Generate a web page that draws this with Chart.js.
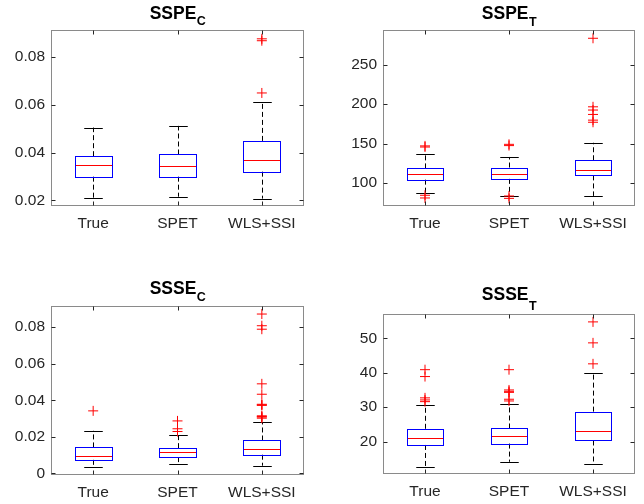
<!DOCTYPE html>
<html>
<head>
<meta charset="utf-8">
<script src="https://cdn.jsdelivr.net/npm/chart.js@4.4.1/dist/chart.umd.min.js"></script>
<style>
  html, body { margin: 0; padding: 0; background: #fff; }
  #fig { position: relative; width: 644px; height: 504px; background: #fff; }
  .panel { position: absolute; width: 322px; height: 252px; }
</style>
</head>
<body>
<div id="fig">
  <div class="panel" style="left:0;top:0"><canvas id="c1"></canvas></div>
  <div class="panel" style="left:322px;top:0"><canvas id="c2"></canvas></div>
  <div class="panel" style="left:0;top:252px"><canvas id="c3"></canvas></div>
  <div class="panel" style="left:322px;top:252px"><canvas id="c4"></canvas></div>
</div>
<script>
// Methods compared in every panel
const categories = ['True', 'SPET', 'WLS+SSI'];

// SSPE_C box statistics (lower whisker, Q1, median, Q3, upper whisker)
const sspeC_lo  = [0.0211, 0.0215, 0.0207];
const sspeC_q1  = [0.0299, 0.0299, 0.0320];
const sspeC_med = [0.0347, 0.0345, 0.0368];
const sspeC_q3  = [0.0385, 0.0392, 0.0449];
const sspeC_hi  = [0.0505, 0.0512, 0.0610];
const sspeC_out = [[], [], [0.0650, 0.0869, 0.0877]];
const sspeC_ticks = [0.02, 0.04, 0.06, 0.08];
const sspeC_tickLabels = ['0.02', '0.04', '0.06', '0.08'];
const sspeC_range = [0.0176, 0.0914];

// SSPE_T
const sspeT_lo  = [87, 84, 83.6];
const sspeT_q1  = [104.2, 105.2, 109.6];
const sspeT_med = [111.4, 111.4, 116.6];
const sspeT_q3  = [118.5, 119.6, 128.8];
const sspeT_hi  = [137, 133, 151];
const sspeT_out = [[147, 145.6, 84.4, 81], [149, 147.4, 83.5, 80.5], [283.5, 196.6, 192.5, 186.9, 179.7, 177]];
const sspeT_ticks = [100, 150, 200, 250];
const sspeT_tickLabels = ['100', '150', '200', '250'];
const sspeT_range = [70.8, 294];

// SSSE_C
const ssseC_lo  = [0.0034, 0.0051, 0.0042];
const ssseC_q1  = [0.0074, 0.0089, 0.0102];
const ssseC_med = [0.0096, 0.0118, 0.0131];
const ssseC_q3  = [0.0142, 0.0138, 0.0180];
const ssseC_hi  = [0.0233, 0.0211, 0.0280];
const ssseC_out = [[0.0342], [0.0287, 0.0244, 0.0229],
  [0.0872, 0.0808, 0.0789, 0.0490, 0.0433, 0.0378, 0.0375, 0.0372, 0.0315, 0.0311, 0.0308, 0.0302]];
const ssseC_ticks = [0, 0.02, 0.04, 0.06, 0.08];
const ssseC_tickLabels = ['0', '0.02', '0.04', '0.06', '0.08'];
const ssseC_range = [-0.0009, 0.0916];

// SSSE_T
const ssseT_lo  = [12.6, 14.1, 13.6];
const ssseT_q1  = [19.0, 19.4, 20.3];
const ssseT_med = [21.1, 21.6, 23.0];
const ssseT_q3  = [23.7, 23.8, 28.7];
const ssseT_hi  = [30.6, 30.9, 39.9];
const ssseT_out = [[40.9, 38.9, 32.7, 32.1, 31.6], [40.9, 35.0, 34.6, 34.3, 32.3, 31.8], [54.8, 48.7, 42.6]];
const ssseT_ticks = [20, 30, 40, 50];
const ssseT_tickLabels = ['20', '30', '40', '50'];
const ssseT_range = [10.55, 57.1];

const FONT = '"Liberation Sans", Arial, Helvetica, sans-serif';
const TICK_COLOR = '#262626';
const FRAME_COLOR = '#8a8a8a';

const snap = v => Math.round(v) + 0.5;

// Whiskers, caps, box outlines, medians, axes frame, inward ticks and the subscripted title
const boxplotDecor = {
  id: 'boxplotDecor',
  beforeDatasetsDraw(chart, args, opts) {
    const ctx = chart.ctx, y = chart.scales.y;
    const meta = chart.getDatasetMeta(0);
    ctx.save();
    ctx.strokeStyle = '#000';
    ctx.lineWidth = 1;
    meta.data.forEach((bar, i) => {
      const cx = snap(bar.x);
      const w = bar.width;
      const yLo = y.getPixelForValue(opts.lo[i]);
      const yHi = y.getPixelForValue(opts.hi[i]);
      const yQ1 = y.getPixelForValue(opts.q1[i]);
      const yQ3 = y.getPixelForValue(opts.q3[i]);
      ctx.setLineDash([5, 3]);
      ctx.beginPath();
      ctx.moveTo(cx, yQ3); ctx.lineTo(cx, yHi);
      ctx.moveTo(cx, yQ1); ctx.lineTo(cx, yLo);
      ctx.stroke();
      ctx.setLineDash([]);
      ctx.beginPath();
      ctx.moveTo(cx - w / 4, snap(yHi)); ctx.lineTo(cx + w / 4, snap(yHi));
      ctx.moveTo(cx - w / 4, snap(yLo)); ctx.lineTo(cx + w / 4, snap(yLo));
      ctx.stroke();
    });
    ctx.restore();
  },
  afterDatasetsDraw(chart, args, opts) {
    const ctx = chart.ctx, y = chart.scales.y;
    const meta = chart.getDatasetMeta(0);
    ctx.save();
    ctx.lineWidth = 1;
    meta.data.forEach((bar, i) => {
      // box outline from the bar element's own geometry, pixel-snapped
      const l = snap(bar.x - bar.width / 2), r = snap(bar.x + bar.width / 2);
      const t = snap(Math.min(bar.y, bar.base)), b = snap(Math.max(bar.y, bar.base));
      ctx.strokeStyle = '#0000ff';
      ctx.strokeRect(l, t, r - l, b - t);
      const ym = snap(y.getPixelForValue(opts.med[i]));
      ctx.strokeStyle = '#ff0000';
      ctx.beginPath();
      ctx.moveTo(l + 0.5, ym);
      ctx.lineTo(r - 0.5, ym);
      ctx.stroke();
    });
    ctx.restore();
  },
  afterDraw(chart, args, opts) {
    const ctx = chart.ctx, a = chart.chartArea;
    const x = chart.scales.x, y = chart.scales.y;
    const L = a.left + 0.5, R = a.right - 0.5, T = a.top + 0.5, B = a.bottom - 0.5;
    ctx.save();
    ctx.lineWidth = 1;
    ctx.strokeStyle = FRAME_COLOR;
    ctx.strokeRect(L, T, R - L, B - T);
    ctx.strokeStyle = TICK_COLOR;
    ctx.beginPath();
    y.ticks.forEach(t => {
      const py = snap(y.getPixelForValue(t.value));
      ctx.moveTo(L, py); ctx.lineTo(L + 4, py);
      ctx.moveTo(R, py); ctx.lineTo(R - 4, py);
    });
    categories.forEach((c, i) => {
      const px = snap(x.getPixelForValue(i));
      ctx.moveTo(px, B); ctx.lineTo(px, B - 4);
      ctx.moveTo(px, T); ctx.lineTo(px, T + 4);
    });
    ctx.stroke();

    // Title: bold main text with bold subscript
    ctx.fillStyle = '#000';
    ctx.textBaseline = 'alphabetic';
    ctx.textAlign = 'left';
    ctx.font = 'bold 17.5px ' + FONT;
    const wMain = ctx.measureText(opts.title).width;
    ctx.font = 'bold 12.5px ' + FONT;
    const wSub = ctx.measureText(opts.sub).width;
    const x0 = (a.left + a.right) / 2 - (wMain + wSub) / 2;
    ctx.font = 'bold 17.5px ' + FONT;
    ctx.fillText(opts.title, x0, a.top - opts.mainOff);
    ctx.font = 'bold 12.5px ' + FONT;
    ctx.fillText(opts.sub, x0 + wMain + 0.5, a.top - opts.subOff);
    ctx.restore();
  }
};

function makePanel(id, s, layout) {
  const outliers = [];
  s.out.forEach((vals, i) => vals.forEach(v => outliers.push({ x: categories[i], y: v })));
  const boxes = categories.map((c, i) => [s.q1[i], s.q3[i]]);
  return new Chart(document.getElementById(id), {
    type: 'bar',
    data: {
      labels: categories,
      datasets: [
        {
          // interquartile boxes; outline stroked crisply by the plugin
          data: boxes,
          backgroundColor: 'rgba(0,0,0,0)',
          borderColor: 'rgba(0,0,0,0)',
          borderWidth: 0,
          inflateAmount: 0,
          barPercentage: 0.44,
          categoryPercentage: 1.0
        },
        {
          type: 'line',
          data: outliers,
          showLine: false,
          pointStyle: 'cross',
          pointRadius: 5,
          pointBorderColor: '#ff0000',
          pointBorderWidth: 1,
          pointBackgroundColor: '#ff0000'
        }
      ]
    },
    options: {
      responsive: false,
      animation: false,
      events: [],
      devicePixelRatio: 1,
      layout: { padding: { left: 0, right: layout.right, top: layout.top, bottom: layout.bottom } },
      plugins: {
        legend: { display: false },
        tooltip: { enabled: false },
        boxplotDecor: {
          lo: s.lo, q1: s.q1, med: s.med, q3: s.q3, hi: s.hi,
          title: s.title, sub: s.sub, mainOff: layout.mainOff, subOff: layout.subOff
        }
      },
      scales: {
        x: {
          type: 'category',
          offset: true,
          grid: { display: false, drawTicks: false },
          border: { display: false },
          ticks: { color: TICK_COLOR, font: { family: FONT, size: 15.5 }, padding: 8, maxRotation: 0, autoSkip: false },
          afterFit(scale) { scale.height = layout.xh; }
        },
        y: {
          type: 'linear',
          min: s.range[0],
          max: s.range[1],
          grid: { display: false, drawTicks: false },
          border: { display: false },
          afterBuildTicks(scale) { scale.ticks = s.ticks.map(v => ({ value: v })); },
          ticks: {
            color: TICK_COLOR,
            font: { family: FONT, size: 15.5 },
            padding: 6,
            callback: (v, i) => s.tickLabels[i]
          },
          afterFit(scale) { scale.width = layout.yw; }
        }
      }
    },
    plugins: [boxplotDecor]
  });
}

function setSize(id) {
  const c = document.getElementById(id);
  c.width = 322; c.height = 252;
  c.style.width = '322px'; c.style.height = '252px';
}
['c1', 'c2', 'c3', 'c4'].forEach(setSize);

makePanel('c1',
  { lo: sspeC_lo, q1: sspeC_q1, med: sspeC_med, q3: sspeC_q3, hi: sspeC_hi, out: sspeC_out,
    ticks: sspeC_ticks, tickLabels: sspeC_tickLabels, range: sspeC_range, title: 'SSPE', sub: 'C' },
  { yw: 51, right: 18, top: 30, bottom: 16, xh: 30, mainOff: 10.7, subOff: 5 });

makePanel('c2',
  { lo: sspeT_lo, q1: sspeT_q1, med: sspeT_med, q3: sspeT_q3, hi: sspeT_hi, out: sspeT_out,
    ticks: sspeT_ticks, tickLabels: sspeT_tickLabels, range: sspeT_range, title: 'SSPE', sub: 'T' },
  { yw: 61, right: 9, top: 30, bottom: 16, xh: 30, mainOff: 10.7, subOff: 4 });

makePanel('c3',
  { lo: ssseC_lo, q1: ssseC_q1, med: ssseC_med, q3: ssseC_q3, hi: ssseC_hi, out: ssseC_out,
    ticks: ssseC_ticks, tickLabels: ssseC_tickLabels, range: ssseC_range, title: 'SSSE', sub: 'C' },
  { yw: 51, right: 18, top: 54, bottom: 0, xh: 29, mainOff: 11.7, subOff: 5.3 });

makePanel('c4',
  { lo: ssseT_lo, q1: ssseT_q1, med: ssseT_med, q3: ssseT_q3, hi: ssseT_hi, out: ssseT_out,
    ticks: ssseT_ticks, tickLabels: ssseT_tickLabels, range: ssseT_range, title: 'SSSE', sub: 'T' },
  { yw: 61, right: 9, top: 62, bottom: 0, xh: 30, mainOff: 13.7, subOff: 4.4 });
</script>
</body>
</html>
